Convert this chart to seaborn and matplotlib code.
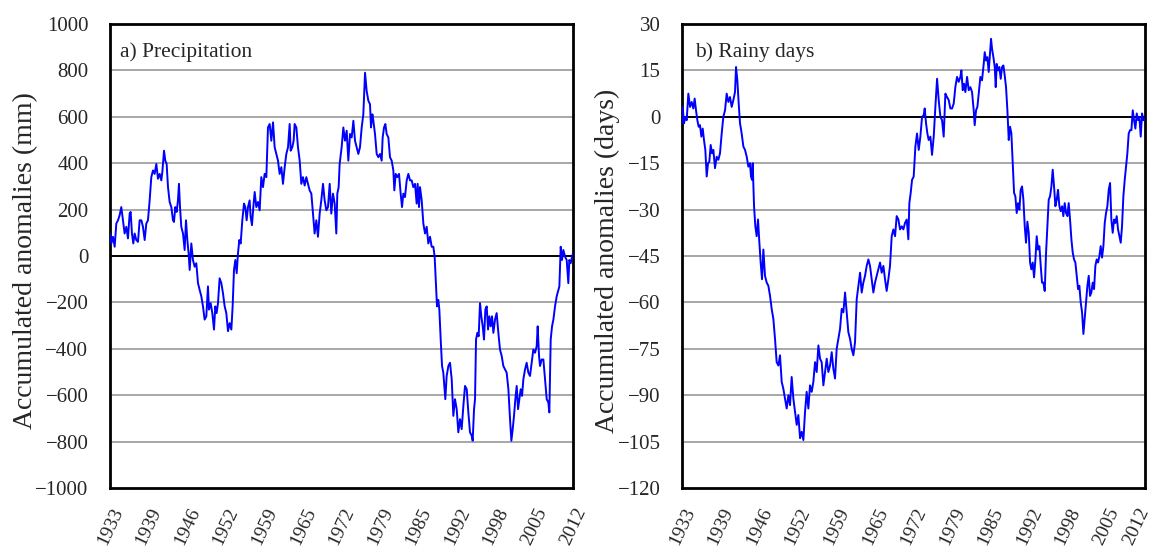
import numpy as np
import pandas as pd
import matplotlib
matplotlib.use("Agg")
import matplotlib.pyplot as plt
import matplotlib.transforms as mtransforms
import seaborn as sns

# ---- Accumulated precipitation anomalies (mm) ----
precip_year = [
    1933.00, 1933.23, 1933.51, 1933.80, 1934.08, 1934.37, 1934.65, 1934.93, 1935.22, 1935.50,
    1935.79, 1936.07, 1936.36, 1936.53, 1936.75, 1936.98, 1937.21, 1937.49, 1937.78, 1938.06,
    1938.35, 1938.63, 1938.92, 1939.20, 1939.48, 1939.77, 1940.05, 1940.34, 1940.62, 1940.91,
    1941.19, 1941.48, 1941.76, 1941.93, 1942.22, 1942.44, 1942.67, 1942.90, 1943.18, 1943.47,
    1943.75, 1943.92, 1944.15, 1944.38, 1944.60, 1944.77, 1944.95, 1945.17, 1945.46, 1945.74,
    1945.97, 1946.20, 1946.42, 1946.60, 1946.88, 1947.16, 1947.45, 1947.73, 1948.02, 1948.30,
    1948.59, 1948.87, 1949.15, 1949.44, 1949.72, 1949.89, 1950.18, 1950.46, 1950.75, 1950.97,
    1951.20, 1951.43, 1951.71, 1952.00, 1952.28, 1952.57, 1952.85, 1953.14, 1953.42, 1953.71,
    1953.93, 1954.16, 1954.39, 1954.62, 1954.84, 1955.07, 1955.30, 1955.58, 1955.87, 1956.09,
    1956.32, 1956.55, 1956.83, 1957.00, 1957.23, 1957.46, 1957.69, 1957.97, 1958.26, 1958.54,
    1958.82, 1959.11, 1959.39, 1959.68, 1959.96, 1960.25, 1960.53, 1960.82, 1961.10, 1961.38,
    1961.67, 1961.95, 1962.24, 1962.52, 1962.81, 1963.09, 1963.38, 1963.66, 1963.83, 1964.11,
    1964.34, 1964.51, 1964.80, 1965.08, 1965.37, 1965.65, 1965.93, 1966.22, 1966.50, 1966.79,
    1967.07, 1967.36, 1967.64, 1967.92, 1968.21, 1968.49, 1968.78, 1969.06, 1969.35, 1969.63,
    1969.92, 1970.20, 1970.49, 1970.77, 1971.05, 1971.34, 1971.62, 1971.79, 1972.02, 1972.19,
    1972.53, 1972.82, 1973.10, 1973.39, 1973.67, 1973.96, 1974.24, 1974.53, 1974.81, 1975.09,
    1975.38, 1975.66, 1975.95, 1976.23, 1976.52, 1976.80, 1977.09, 1977.37, 1977.54, 1977.77,
    1977.94, 1978.22, 1978.51, 1978.79, 1979.08, 1979.36, 1979.53, 1979.76, 1979.99, 1980.21,
    1980.50, 1980.78, 1981.07, 1981.35, 1981.52, 1981.75, 1982.03, 1982.32, 1982.60, 1982.83,
    1983.06, 1983.34, 1983.63, 1983.91, 1984.20, 1984.48, 1984.76, 1985.05, 1985.33, 1985.50,
    1985.73, 1985.90, 1986.19, 1986.47, 1986.76, 1987.04, 1987.32, 1987.61, 1987.89, 1988.18,
    1988.40, 1988.63, 1988.80, 1989.03, 1989.20, 1989.43, 1989.66, 1989.88, 1990.05, 1990.22,
    1990.45, 1990.74, 1991.02, 1991.31, 1991.59, 1991.87, 1992.16, 1992.44, 1992.73, 1993.01,
    1993.30, 1993.58, 1993.87, 1994.15, 1994.43, 1994.72, 1994.89, 1995.12, 1995.29, 1995.46,
    1995.69, 1995.91, 1996.14, 1996.37, 1996.60, 1996.82, 1997.05, 1997.28, 1997.51, 1997.73,
    1997.96, 1998.19, 1998.42, 1998.70, 1998.98, 1999.27, 1999.55, 1999.84, 2000.12, 2000.41,
    2000.69, 2000.98, 2001.26, 2001.49, 2001.72, 2001.94, 2002.17, 2002.40, 2002.63, 2002.85,
    2003.08, 2003.31, 2003.54, 2003.82, 2004.10, 2004.39, 2004.67, 2004.96, 2005.24, 2005.53,
    2005.81, 2005.98, 2006.21, 2006.38, 2006.66, 2006.95, 2007.23, 2007.52, 2007.80, 2007.97,
    2008.20, 2008.43, 2008.66, 2008.94, 2009.22, 2009.51, 2009.68, 2009.91, 2010.13, 2010.36,
    2010.65, 2010.93, 2011.21, 2011.38, 2011.61, 2011.84, 2012.00,
]
precip_anom = [
    97, 54, 83, 40, 140, 154, 176, 211, 154, 97,
    126, 76, 183, 190, 97, 54, 97, 69, 61, 154,
    154, 126, 69, 140, 154, 240, 340, 369, 354, 397,
    333, 354, 326, 361, 454, 411, 397, 297, 233, 211,
    154, 147, 211, 190, 240, 311, 211, 126, 97, 26,
    154, 69, 11, -60, 54, -17, -46, -31, -117, -146,
    -174, -217, -274, -260, -131, -231, -203, -246, -317, -217,
    -246, -203, -96, -117, -160, -217, -246, -324, -289, -317,
    -217, -60, -17, -74, 11, 69, 54, 154, 226, 211,
    154, 211, 240, 169, 133, 211, 276, 211, 233, 197,
    340, 297, 354, 340, 554, 569, 497, 576, 469, 440,
    411, 354, 383, 311, 383, 440, 469, 569, 454, 469,
    497, 569, 554, 469, 411, 311, 340, 304, 340, 311,
    283, 269, 183, 97, 154, 83, 183, 240, 311, 240,
    197, 211, 311, 183, 269, 226, 97, 269, 297, 397,
    469, 554, 497, 540, 411, 526, 511, 583, 497, 469,
    440, 469, 554, 611, 790, 711, 669, 654, 554, 611,
    583, 526, 440, 426, 440, 411, 511, 554, 569, 526,
    511, 426, 411, 369, 283, 354, 340, 354, 269, 211,
    269, 254, 326, 354, 326, 326, 297, 311, 226, 311,
    211, 297, 240, 140, 97, 126, 54, 83, 40, 40,
    -3, -131, -217, -189, -231, -360, -474, -503, -560, -617,
    -517, -474, -460, -531, -689, -617, -660, -760, -703, -746,
    -646, -560, -574, -674, -760, -774, -796, -660, -617, -360,
    -331, -346, -203, -260, -303, -360, -231, -217, -317, -260,
    -303, -260, -331, -274, -246, -331, -403, -431, -474, -489,
    -503, -574, -703, -796, -746, -689, -617, -560, -660, -617,
    -574, -603, -531, -489, -460, -503, -517, -460, -403, -417,
    -389, -303, -431, -474, -446, -446, -531, -617, -631, -674,
    -360, -303, -274, -217, -174, -146, -131, 40, -17, 26,
    -3, -17, -117, -17, -31, -3, 11,
]

# ---- Accumulated rainy-day anomalies (days) ----
rainy_year = [
    1933.00, 1933.11, 1933.34, 1933.57, 1933.80, 1934.08, 1934.37, 1934.65, 1934.93, 1935.16,
    1935.39, 1935.62, 1935.84, 1936.07, 1936.30, 1936.53, 1936.75, 1936.98, 1937.21, 1937.44,
    1937.66, 1937.89, 1938.12, 1938.35, 1938.63, 1938.92, 1939.20, 1939.48, 1939.77, 1940.05,
    1940.34, 1940.62, 1940.91, 1941.19, 1941.48, 1941.76, 1942.04, 1942.22, 1942.44, 1942.67,
    1942.90, 1943.18, 1943.47, 1943.75, 1944.04, 1944.32, 1944.60, 1944.77, 1944.95, 1945.06,
    1945.29, 1945.51, 1945.74, 1945.97, 1946.20, 1946.42, 1946.65, 1946.88, 1947.16, 1947.45,
    1947.73, 1948.02, 1948.30, 1948.59, 1948.87, 1949.15, 1949.44, 1949.72, 1950.01, 1950.29,
    1950.58, 1950.86, 1951.15, 1951.43, 1951.71, 1952.00, 1952.28, 1952.57, 1952.85, 1953.14,
    1953.42, 1953.71, 1953.99, 1954.27, 1954.56, 1954.84, 1955.13, 1955.41, 1955.70, 1955.98,
    1956.27, 1956.55, 1956.83, 1957.12, 1957.40, 1957.69, 1957.97, 1958.26, 1958.54, 1958.82,
    1959.11, 1959.39, 1959.68, 1959.96, 1960.25, 1960.53, 1960.82, 1961.10, 1961.38, 1961.67,
    1961.95, 1962.24, 1962.52, 1962.81, 1963.09, 1963.38, 1963.66, 1963.94, 1964.23, 1964.51,
    1964.80, 1965.08, 1965.37, 1965.65, 1965.93, 1966.22, 1966.50, 1966.79, 1967.07, 1967.36,
    1967.64, 1967.92, 1968.21, 1968.49, 1968.78, 1969.06, 1969.35, 1969.63, 1969.92, 1970.20,
    1970.49, 1970.77, 1971.05, 1971.34, 1971.62, 1971.79, 1972.02, 1972.25,
    1972.53, 1972.82, 1973.10, 1973.39, 1973.67, 1973.96, 1974.24, 1974.41, 1974.64, 1974.87,
    1975.09, 1975.38, 1975.66, 1975.95, 1976.23, 1976.52, 1976.80, 1977.09, 1977.37, 1977.65,
    1977.94, 1978.22, 1978.51, 1978.79, 1979.08, 1979.36, 1979.64, 1979.93, 1980.21, 1980.50,
    1980.67, 1980.90, 1981.12, 1981.35, 1981.64, 1981.92, 1982.20, 1982.49, 1982.77, 1982.94,
    1983.17, 1983.40, 1983.63, 1983.91, 1984.19, 1984.48, 1984.65, 1984.88, 1985.10, 1985.33,
    1985.56, 1985.73, 1985.90, 1986.13, 1986.36, 1986.53, 1986.70, 1986.93, 1987.15, 1987.38,
    1987.61, 1987.84, 1988.06, 1988.29, 1988.52, 1988.75, 1988.97, 1989.20, 1989.43, 1989.66,
    1989.88, 1990.11, 1990.34, 1990.57, 1990.79, 1991.02, 1991.25, 1991.48, 1991.70, 1991.93,
    1992.16, 1992.39, 1992.61, 1992.84, 1993.07, 1993.30, 1993.52, 1993.75, 1993.98, 1994.21,
    1994.43, 1994.66, 1994.89, 1995.12, 1995.34, 1995.57, 1995.80, 1996.03, 1996.25, 1996.48,
    1996.71, 1996.94, 1997.16, 1997.39, 1997.62, 1997.85, 1998.07, 1998.30, 1998.53, 1998.76,
    1998.98, 1999.21, 1999.44, 1999.67, 1999.89, 2000.12, 2000.35, 2000.58, 2000.80, 2001.03,
    2001.26, 2001.49, 2001.71, 2001.94, 2002.17, 2002.40, 2002.62, 2002.85, 2003.08, 2003.31,
    2003.53, 2003.76, 2003.99, 2004.22, 2004.44, 2004.67, 2004.90, 2005.13, 2005.35, 2005.58,
    2005.81, 2006.04, 2006.26, 2006.49, 2006.72, 2006.95, 2007.17, 2007.40, 2007.63, 2007.86,
    2008.08, 2008.31, 2008.54, 2008.77, 2008.99, 2009.22, 2009.45, 2009.68, 2009.91, 2010.13,
    2010.36, 2010.59, 2010.82, 2011.04, 2011.27, 2011.50, 2011.73, 2012.00,
]
rainy_anom = [
    -2.1, 3.2, -2.1, 0.0, -1.1, 7.5, 3.2, 4.8, 2.7, 5.9,
    2.1, -1.1, -3.2, -2.7, -6.4, -3.8, -7.5, -10.7, -19.3, -15.0,
    -14.5, -9.1, -11.8, -10.7, -16.6, -12.9, -13.9, -11.8, -5.4, 0.0,
    2.1, 7.5, 4.8, 6.4, 3.2, 5.4, 8.0, 16.1, 11.8, 4.3,
    -2.1, -5.4, -9.6, -10.7, -12.9, -16.1, -15.0, -19.3, -20.4, -15.0,
    -28.9, -35.4, -38.6, -33.2, -40.7, -47.1, -52.5, -42.9, -51.4, -53.6,
    -54.6, -57.9, -62.1, -65.4, -71.8, -79.3, -80.4, -77.1, -85.7, -87.9,
    -91.1, -94.3, -90.0, -93.2, -84.1, -91.1, -95.4, -99.6, -96.4, -103.9,
    -101.8, -104.5, -95.4, -88.9, -94.3, -86.8, -88.9, -85.7, -79.3, -82.5,
    -73.9, -78.2, -79.3, -86.8, -82.5, -78.2, -82.5, -80.4, -76.1, -81.4,
    -84.6, -75.0, -71.8, -68.6, -62.1, -63.2, -56.8, -63.2, -69.6, -71.8,
    -75.0, -77.1, -72.9, -58.9, -54.6, -50.4, -56.8, -53.6, -51.4, -48.2,
    -46.1, -48.2, -52.5, -56.8, -53.6, -51.4, -49.3, -47.1, -50.4, -48.2,
    -52.5, -56.3, -52.5, -48.2, -38.6, -36.4, -38.6, -32.1, -33.2, -36.4,
    -35.4, -36.4, -34.3, -33.2, -39.6, -27.9, -24.6, -20.4,
    -19.3, -9.6, -5.4, -10.7, -6.4, 0.0, 0.5, 2.7, -2.1, -5.4,
    -7.5, -6.4, -12.3, -6.4, 3.2, 12.3, 5.4, 0.0, -1.1, -6.4,
    7.5, 6.4, 5.4, 2.7, 2.7, 4.3, 9.6, 12.9, 11.3, 12.9,
    15.0, 8.6, 10.7, 8.0, 12.9, 8.6, 9.6, 8.0, 2.1, -2.7,
    2.1, 3.2, 7.5, 12.9, 11.8, 17.1, 20.9, 18.2, 19.3, 14.5,
    20.4, 25.2, 22.0, 19.3, 16.1, 9.6, 17.1, 15.0, 16.1, 12.3,
    16.1, 16.6, 13.4, 9.6, 2.1, -7.5, -3.2, -5.4, -15.0, -24.6,
    -25.7, -31.1, -27.9, -30.0, -23.6, -22.5, -26.8, -35.4, -40.7, -33.9,
    -37.5, -47.1, -49.3, -47.1, -51.9, -46.1, -38.6, -42.9, -41.8, -48.2,
    -53.6, -53.6, -56.3, -43.9, -35.4, -26.8, -25.7, -22.5, -17.1, -22.5,
    -28.9, -26.8, -23.6, -28.9, -30.5, -28.9, -32.1, -27.9, -31.1, -32.1,
    -27.9, -33.2, -39.6, -43.9, -46.1, -47.1, -51.4, -55.7, -54.6, -60.0,
    -63.2, -70.2, -65.4, -60.0, -54.6, -51.4, -57.9, -56.8, -53.6, -55.7,
    -48.2, -46.1, -47.1, -45.0, -41.8, -45.5, -41.8, -34.3, -31.1, -28.9,
    -23.6, -21.4, -33.2, -37.5, -33.2, -34.3, -32.1, -36.4, -38.6, -40.7,
    -35.4, -25.7, -20.4, -16.1, -11.8, -5.4, -4.3, -4.3, 2.1, -1.1,
    -3.8, 1.1, -1.1, 0.0, -6.4, 1.1, -1.1, -0.5,
]

# Axis tick labels
year_labels = ["1933", "1939", "1946", "1952", "1959", "1965", "1972",
               "1979", "1985", "1992", "1998", "2005", "2012"]
precip_ticks = [1000, 800, 600, 400, 200, 0, -200, -400, -600, -800, -1000]
rainy_ticks = [30, 15, 0, -15, -30, -45, -60, -75, -90, -105, -120]

panel_titles = ["a) Precipitation", "b) Rainy days"]
y_titles = ["Accumulated anomalies (mm)", "Accumulated anomalies (days)"]

sns.set_style("white")
plt.rcParams["font.family"] = ["Liberation Serif", "DejaVu Serif"]
plt.rcParams["axes.unicode_minus"] = True

fig = plt.figure(figsize=(11.54, 5.51), dpi=100)
ax_a = fig.add_axes([0.0953, 0.1143, 0.4012, 0.8421])
ax_b = fig.add_axes([0.5910, 0.1143, 0.4012, 0.8421])

frames = [
    pd.DataFrame({"year": precip_year, "anom": precip_anom}),
    pd.DataFrame({"year": rainy_year, "anom": rainy_anom}),
]
yticks = [precip_ticks, rainy_ticks]
title_x = [0.0216, 0.028]
ylabel_x = [-0.1555, -0.134]

for i, (ax, df, yt) in enumerate(zip([ax_a, ax_b], frames, yticks)):
    # horizontal reference lines at every inner y tick, black at zero
    for v in yt:
        if v == 0:
            ax.axhline(v, color="black", lw=1.4, zorder=1)
        elif v not in (max(yt), min(yt)):
            ax.axhline(v, color="#a0a0a0", lw=1.3, zorder=1)

    sns.lineplot(data=df, x="year", y="anom", ax=ax, color="#0000ff",
                 linewidth=1.4, estimator=None, sort=False, zorder=3)

    ax.set_xlim(1933, 2012)
    ax.set_ylim(min(yt), max(yt))
    ax.set_yticks(yt)
    ax.set_xticks(np.linspace(1933, 2012, len(year_labels)))
    ax.set_xticklabels(year_labels, rotation=65, ha="center", fontsize=14)
    ax.tick_params(axis="y", labelsize=15, direction="out", length=8.5,
                   width=1.6, color="black", pad=7)
    ax.tick_params(axis="x", direction="out", length=9, width=1.6,
                   color="black", pad=3)
    for sp in ax.spines.values():
        sp.set_visible(True)
        sp.set_color("black")
        sp.set_linewidth(2.0)
    ax.set_xlabel("")
    ax.set_ylabel(y_titles[i], fontsize=20)
    ax.yaxis.set_label_coords(ylabel_x[i], 0.49)
    ax.text(title_x[i], 0.9295, panel_titles[i], transform=ax.transAxes,
            fontsize=15.5, va="baseline", ha="left")
    ax.grid(False)

# keep the last year label of the right panel inside the canvas
last_label = ax_b.get_xticklabels()[-1]
last_label.set_transform(last_label.get_transform() +
                         mtransforms.ScaledTranslation(-6 / 72, 0, fig.dpi_scale_trans))

fig.savefig("out.png", dpi=100)
